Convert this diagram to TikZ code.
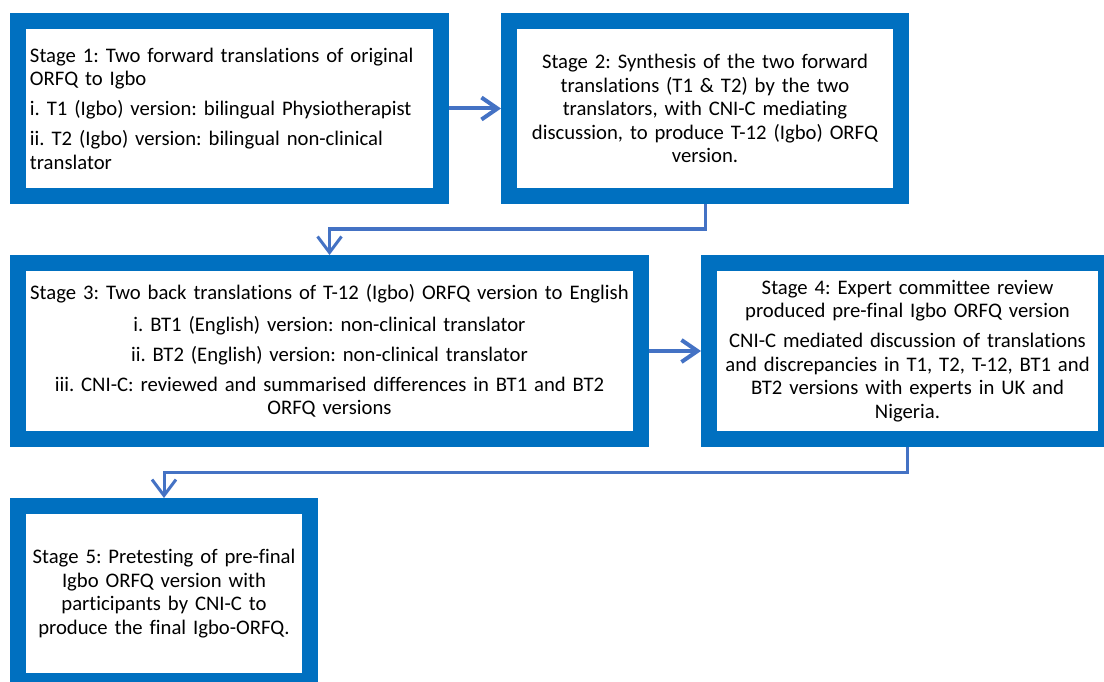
\documentclass[tikz,border=0pt]{standalone}
\usepackage{fontspec}
\setmainfont{Carlito}[Ligatures=NoCommon]
\frenchspacing
\usetikzlibrary{arrows.meta}
\definecolor{boxblue}{HTML}{0070C0}
\definecolor{linkblue}{HTML}{4472C4}
\tikzset{
  stagebox/.style={draw=boxblue, line width=16pt, fill=white, outer sep=8pt, inner sep=0pt,
    font=\fontsize{20.7}{23.5}\selectfont, text=black},
  conn/.style={draw=linkblue, line width=3pt, -{Straight Barb[length=16pt,width=24pt]}},
  hconn/.style={draw=linkblue, line width=4pt, -{Straight Barb[length=16pt,width=22pt]}}
}
\begin{document}
\begin{tikzpicture}[x=1pt,y=-1pt]
\useasboundingbox (0,0) rectangle (1104,682);
\clip (0,0) rectangle (1104,682);
\node[stagebox, minimum width=423pt, minimum height=175pt, text width=399pt, align=left] (b1) at (229.5,108.5)
 {Stage 1: Two forward translations of original\\ORFQ to Igbo\\[6.5pt]
  i. T1 (Igbo) version: bilingual Physiotherapist\\[6.5pt]
  ii. T2 (Igbo) version: bilingual non-clinical\\translator};
\node[stagebox, minimum width=392pt, minimum height=175pt, text width=380pt, align=center] (b2) at (705,108.5)
 {Stage 2: Synthesis of the two forward\\translations (T1 \& T2) by the two\\translators, with CNI-C mediating\\discussion, to produce T-12 (Igbo) ORFQ\\version.};
\node[stagebox, minimum width=623pt, minimum height=176pt, text width=615pt, align=center] (b3) at (329.5,351)
 {Stage 3: Two back translations of T-12 (Igbo) ORFQ version to English\\[8.5pt]
  i. BT1 (English) version: non-clinical translator\\[6.5pt]
  ii. BT2 (English) version: non-clinical translator\\[6.5pt]
  iii. CNI-C: reviewed and summarised differences in BT1 and BT2\\ORFQ versions};
\node[stagebox, minimum width=397pt, minimum height=176pt, text width=385pt, align=center] (b4) at (907.5,351)
 {Stage 4: Expert committee review\\produced pre-final Igbo ORFQ version\\[6.5pt]
  CNI-C mediated discussion of translations\\and discrepancies in T1, T2, T-12, BT1 and\\BT2 versions with experts in UK and\\Nigeria.};
\node[stagebox, minimum width=292pt, minimum height=175pt, text width=280pt, align=center] (b5) at (164,593.5)
 {Stage 5: Pretesting of pre-final\\Igbo ORFQ version with\\participants by CNI-C to\\produce the final Igbo-ORFQ.};
\draw[hconn] (b1.east) -- (b2.west);
\draw[hconn] (b3.east) -- (b4.west);
\draw[conn] (b2.south) -- ++(0,25) -| (b3.north);
\draw[conn] (b4.south) -- ++(0,25) -| (b5.north);
\end{tikzpicture}
\end{document}
